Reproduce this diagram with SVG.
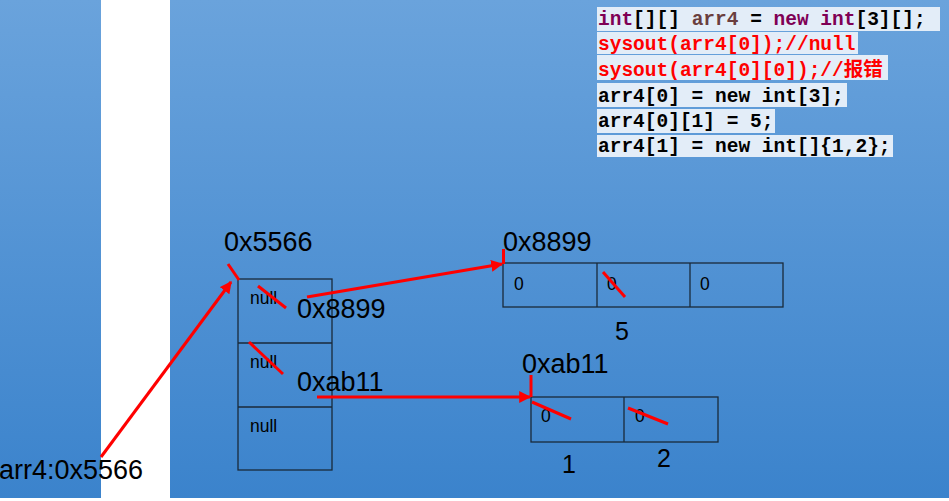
<svg xmlns="http://www.w3.org/2000/svg" width="949" height="501" viewBox="0 0 949 501">
<defs>
<linearGradient id="bg" x1="0" y1="0" x2="0" y2="1">
<stop offset="0" stop-color="#6aa3dc"/>
<stop offset="1" stop-color="#3b83cc"/>
</linearGradient>
<marker id="ah" viewBox="0 0 10 10" refX="9" refY="5" markerWidth="4" markerHeight="4" orient="auto" markerUnits="strokeWidth">
<path d="M0,0 L10,5 L0,10 z" fill="#ff0000"/>
</marker>
<style>
.big{font-family:"Liberation Sans",Arial,sans-serif;font-size:27px;fill:#000}
.mid{font-family:"Liberation Sans",Arial,sans-serif;font-size:25px;fill:#000}
.sm{font-family:"Liberation Sans",Arial,sans-serif;font-size:17.5px;fill:#000}
.box{fill:none;stroke:#1a2a3a;stroke-width:1.3}
.red{stroke:#ff0000;stroke-width:3;fill:none}
.code{font-family:"Liberation Mono","DejaVu Sans Mono","Noto Sans CJK SC",monospace;font-size:19.5px;font-weight:bold;fill:#000}
.hl{fill:#e3edf8}
.kw{fill:#7f0055}
.var{fill:#6a3e3e}
.err{fill:#ff0000}
</style>
</defs>
<rect width="949" height="501" fill="#ffffff"/>
<rect x="0" y="0" width="101" height="498" fill="url(#bg)"/>
<rect x="170" y="0" width="779" height="498" fill="url(#bg)"/>

<g id="code">
<rect class="hl" x="597" y="7" width="343" height="24"/>
<rect class="hl" x="597" y="32" width="261" height="22"/>
<rect class="hl" x="597" y="55" width="291" height="25"/>
<rect class="hl" x="597" y="83" width="250" height="24"/>
<rect class="hl" x="597" y="109" width="178" height="24"/>
<rect class="hl" x="597" y="135" width="296" height="22"/>
<text class="code" x="598" y="25"><tspan class="kw">int</tspan>[][] <tspan class="var">arr4</tspan> = <tspan class="kw">new</tspan> <tspan class="kw">int</tspan>[3][];</text>
<text class="code err" x="598" y="50">sysout(arr4[0]);//null</text>
<text class="code err" x="598" y="76">sysout(arr4[0][0]);//报错</text>
<text class="code" x="598" y="102">arr4[0] = new int[3];</text>
<text class="code" x="598" y="127">arr4[0][1] = 5;</text>
<text class="code" x="598" y="152">arr4[1] = new int[]{1,2};</text>
</g>

<g id="var-arr4">
<text class="big" x="-1" y="479">arr4:0x5566</text>
</g>

<g id="outer-array">
<text class="big" x="224" y="251">0x5566</text>
<rect class="box" x="238" y="279" width="94" height="191"/>
<line class="box" x1="238" y1="343" x2="332" y2="343"/>
<line class="box" x1="238" y1="407" x2="332" y2="407"/>
<text class="sm" x="250" y="304">null</text>
<text class="sm" x="250" y="368">null</text>
<text class="sm" x="250" y="432">null</text>
<line class="red" x1="258" y1="286" x2="286" y2="308"/>
<line class="red" x1="249" y1="342" x2="283" y2="374"/>
<text class="big" x="297" y="318">0x8899</text>
<text class="big" x="297" y="391">0xab11</text>
</g>

<g id="array-0x8899">
<text class="big" x="503" y="251">0x8899</text>
<rect class="box" x="503" y="263" width="280" height="44"/>
<line class="box" x1="597" y1="263" x2="597" y2="307"/>
<line class="box" x1="690" y1="263" x2="690" y2="307"/>
<text class="sm" x="514" y="290">0</text>
<text class="sm" x="607" y="290">0</text>
<text class="sm" x="700" y="290">0</text>
<line class="red" x1="603" y1="272" x2="625" y2="297"/>
<text class="mid" x="615" y="340">5</text>
</g>

<g id="array-0xab11">
<text class="big" x="522" y="373">0xab11</text>
<rect class="box" x="531" y="397" width="187" height="45"/>
<line class="box" x1="624" y1="397" x2="624" y2="442"/>
<text class="sm" x="541" y="422">0</text>
<text class="sm" x="635" y="422">0</text>
<line class="red" x1="532" y1="402" x2="571" y2="419"/>
<line class="red" x1="628" y1="408" x2="668" y2="424"/>
<text class="mid" x="562" y="473">1</text>
<text class="mid" x="657" y="467">2</text>
</g>

<g id="connectors">
<line class="red" x1="101" y1="457" x2="231" y2="282" marker-end="url(#ah)"/>
<line class="red" x1="228" y1="264" x2="239" y2="280"/>
<line class="red" x1="307" y1="297" x2="502" y2="264" marker-end="url(#ah)"/>
<line class="red" x1="503.5" y1="249" x2="503.5" y2="264"/>
<line class="red" x1="317" y1="397" x2="530" y2="397" marker-end="url(#ah)"/>
<line class="red" x1="531" y1="375" x2="531" y2="397"/>
</g>
</svg>
